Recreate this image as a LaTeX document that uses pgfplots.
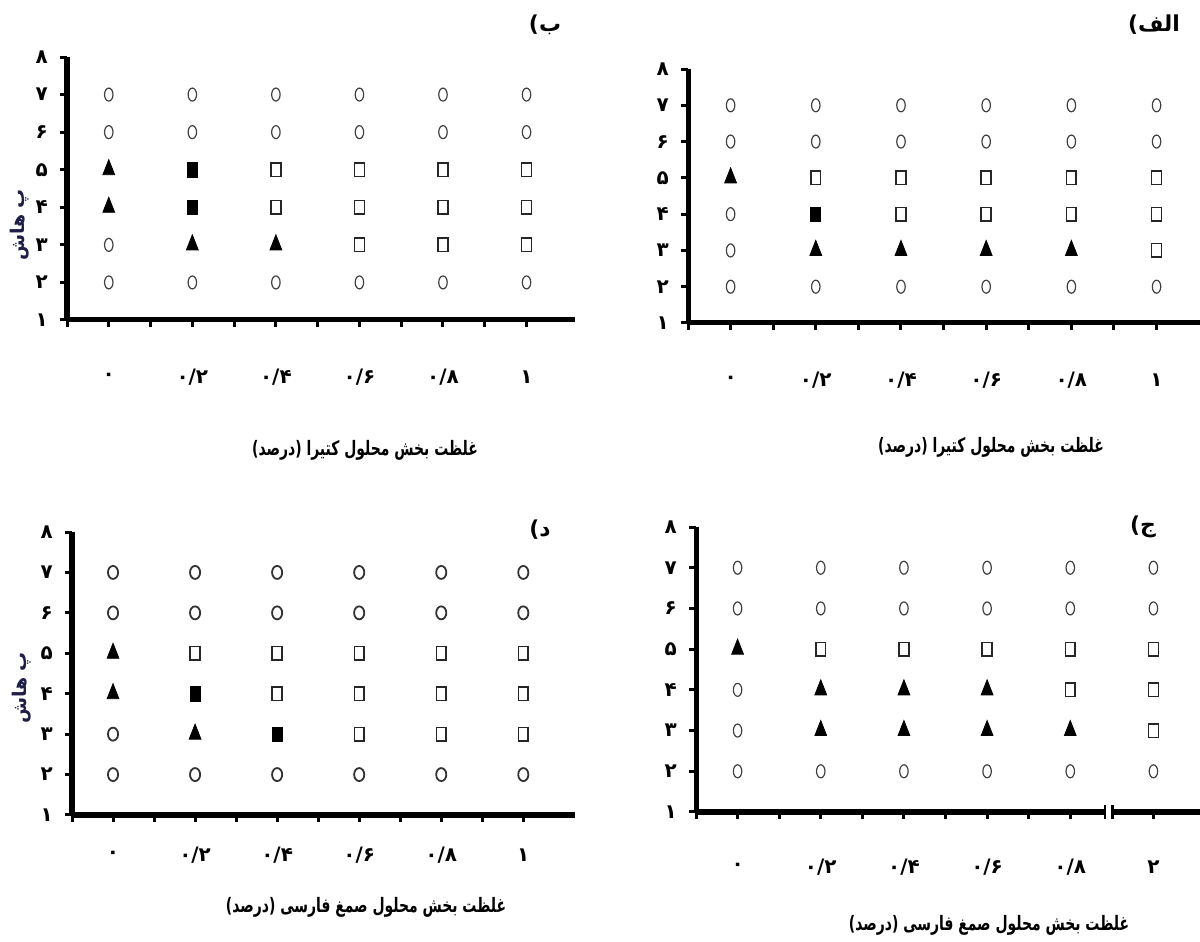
\documentclass[border=0pt]{standalone}
\usepackage{pgfplots}
\pgfplotsset{compat=1.18}
\usepackage{fontspec}
\newfontfamily\fa[Script=Arabic]{DejaVu Sans}
\newfontfamily\fanarrow[Script=Arabic, FakeStretch=0.7]{DejaVu Sans}
\TeXXeTstate=1
\definecolor{ylab}{RGB}{30,30,70}

% common look of the four panels
\pgfplotsset{
  panel/.style={
    scale only axis,
    xmin=-0.5, ymin=1, ymax=8,
    axis x line=bottom, axis y line=left,
    axis line style={line width=2.5bp, -},
    tick align=outside,
    major tick length=3.6bp, minor tick length=3.6bp,
    every tick/.style={line width=1.5bp, black},
    xtick={0,...,5}, ytick={1,...,8},
    minor xtick={-0.5,0.5,...,4.5},
    yticklabels={۱,۲,۳,۴,۵,۶,۷,۸},
    xticklabels={۰,۰/۲,۰/۴,۰/۶,۰/۸,۱},
    ticklabel style={font=\fa\bfseries\fontsize{10}{12}\selectfont},
    yticklabel style={anchor=center, xshift=-9bp},
    clip=false,
  },
  circ/.style={only marks, mark=o, mark size=3.25bp,
    mark options={xscale=0.65, line width=0.6bp, draw=black!75}},
  tri/.style={only marks, mark=triangle*, mark size=5bp,
    mark options={xscale=0.68, fill=black, draw=black}},
  fsq/.style={only marks, mark=square*, mark size=3.6bp,
    mark options={xscale=0.7, fill=black, draw=black}},
  osq/.style={only marks, mark=square, mark size=3.4bp,
    mark options={xscale=0.72, line width=0.8bp, draw=black!85}},
}

\begin{document}
\begin{tikzpicture}
\path[use as bounding box] (0,0) rectangle (600bp,471bp);

% ---- panel b (top left)
\begin{axis}[panel, at={(33.5bp,311bp)}, anchor=south west,
  width=254bp, height=131.5bp, xmax=5.58,
  xticklabel style={anchor=center, yshift=-25bp}]
\addplot[circ] coordinates {(0,7)(1,7)(2,7)(3,7)(4,7)(5,7)
  (0,6)(1,6)(2,6)(3,6)(4,6)(5,6)
  (0,2)(1,2)(2,2)(3,2)(4,2)(5,2) (0,3)};
\addplot[tri] coordinates {(0,5)(0,4)(1,3)(2,3)};
\addplot[fsq] coordinates {(1,5)(1,4)};
\addplot[osq] coordinates {(2,5)(3,5)(4,5)(5,5)(2,4)(3,4)(4,4)(5,4)(3,3)(4,3)(5,3)};
\end{axis}

% ---- panel alef (top right)
\begin{axis}[panel, at={(344bp,309.5bp)}, anchor=south west,
  width=256bp, height=127bp, xmax=5.51,
  xticklabel style={anchor=center, yshift=-25bp}]
\addplot[circ] coordinates {(0,7)(1,7)(2,7)(3,7)(4,7)(5,7)
  (0,6)(1,6)(2,6)(3,6)(4,6)(5,6)
  (0,2)(1,2)(2,2)(3,2)(4,2)(5,2) (0,4)(0,3)};
\addplot[tri] coordinates {(0,5)(1,3)(2,3)(3,3)(4,3)};
\addplot[fsq] coordinates {(1,4)};
\addplot[osq] coordinates {(1,5)(2,5)(3,5)(4,5)(5,5)(2,4)(3,4)(4,4)(5,4)(5,3)};
\end{axis}

% ---- panel dal (bottom left)
\begin{axis}[panel, at={(36bp,63.5bp)}, anchor=south west,
  width=251.5bp, height=141.5bp, xmax=5.63,
  xticklabel style={anchor=center, yshift=-16.5bp},
  circ/.append style={mark options={xscale=0.78, line width=0.9bp, draw=black!80}}]
\addplot[circ] coordinates {(0,7)(1,7)(2,7)(3,7)(4,7)(5,7)
  (0,6)(1,6)(2,6)(3,6)(4,6)(5,6)
  (0,2)(1,2)(2,2)(3,2)(4,2)(5,2) (0,3)};
\addplot[tri] coordinates {(0,5)(0,4)(1,3)};
\addplot[fsq] coordinates {(1,4)(2,3)};
\addplot[osq] coordinates {(1,5)(2,5)(3,5)(4,5)(5,5)(2,4)(3,4)(4,4)(5,4)(3,3)(4,3)(5,3)};
\end{axis}

% ---- panel jim (bottom right), axis broken before the last category
\begin{axis}[panel, at={(348bp,65bp)}, anchor=south west,
  width=252bp, height=142.5bp, xmax=5.56,
  minor xtick={-0.5,0.5,...,3.5},
  xticklabels={۰,۰/۲,۰/۴,۰/۶,۰/۸,۲},
  xticklabel style={anchor=center, yshift=-24bp}]
\addplot[circ] coordinates {(0,7)(1,7)(2,7)(3,7)(4,7)(5,7)
  (0,6)(1,6)(2,6)(3,6)(4,6)(5,6)
  (0,2)(1,2)(2,2)(3,2)(4,2)(5,2) (0,4)(0,3)};
\addplot[tri] coordinates {(0,5)(1,4)(2,4)(3,4)(1,3)(2,3)(3,3)(4,3)};
\addplot[osq] coordinates {(1,5)(2,5)(3,5)(4,5)(5,5)(4,4)(5,4)(5,3)};
\coordinate (brkA) at (axis cs:4.42,1);
\coordinate (brkB) at (axis cs:4.51,1);
\end{axis}
\fill[white] ([xshift=0.6bp,yshift=-2bp]brkA) rectangle ([xshift=-0.6bp,yshift=2bp]brkB);
\draw[line width=1.2bp] ([yshift=-3.3bp]brkA) -- ([yshift=3.3bp]brkA);
\draw[line width=1.2bp] ([yshift=-3.3bp]brkB) -- ([yshift=3.3bp]brkB);

% ---- panel titles
\begin{scope}[every node/.style={font=\fa\bfseries\fontsize{11}{13}\selectfont, inner sep=0pt}]
\node at (272.5bp,458.5bp) {\beginR ب)\endR};
\node at (577bp,458.5bp) {\beginR الف)\endR};
\node at (270bp,206bp) {\beginR د)\endR};
\node at (571.5bp,207.5bp) {\beginR ج)\endR};
\end{scope}

% ---- axis titles
\begin{scope}[every node/.style={font=\fanarrow\bfseries\fontsize{10}{12}\selectfont, inner sep=0pt}]
\node at (182.5bp,246bp) {\beginR غلظت بخش محلول کتیرا (درصد)\endR};
\node at (495.5bp,247.5bp) {\beginR غلظت بخش محلول کتیرا (درصد)\endR};
\node at (183bp,17.5bp) {\beginR غلظت بخش محلول صمغ فارسی (درصد)\endR};
\node at (494.5bp,8.5bp) {\beginR غلظت بخش محلول صمغ فارسی (درصد)\endR};
\end{scope}
\begin{scope}[every node/.style={font=\fa\bfseries\fontsize{9.5}{11}\selectfont, inner sep=0pt}]
\node[rotate=90, text=ylab] at (10bp,358.5bp) {\beginR پ هاش\endR};
\node[rotate=90, text=ylab] at (11bp,127bp) {\beginR پ هاش\endR};
\end{scope}
\end{tikzpicture}
\end{document}
